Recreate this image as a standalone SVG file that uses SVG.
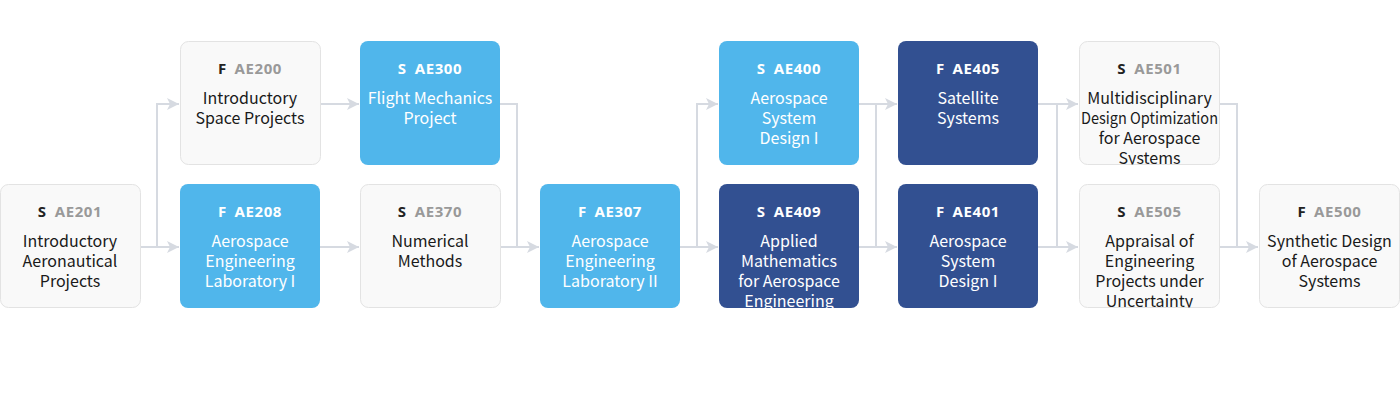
<svg xmlns="http://www.w3.org/2000/svg" width="1400" height="409" viewBox="0 0 1400 409">
<style>
.box-l{fill:#f9f9f9;stroke:#e3e3e3;stroke-width:1}
.box-b{fill:#50b6eb}
.box-d{fill:#325091}
.code{font-family:"Noto Sans","Noto Sans CJK KR",sans-serif;font-weight:700;font-size:15px;text-anchor:middle;letter-spacing:0.6px}
.title{font-family:"Noto Sans CJK KR","Noto Sans",sans-serif;font-size:16px;text-anchor:middle}
.l .sem{fill:#222}
.l .num{fill:#999}
.l .title{fill:#1a1a1a}
.w text,.w tspan{fill:#fff}
.conn{fill:none;stroke:#d6dae1;stroke-width:2}
</style>
<defs>
<marker id="ah" viewBox="0 0 12 12" markerWidth="12" markerHeight="12" refX="12" refY="6" orient="auto" markerUnits="userSpaceOnUse">
<path d="M0,0 L12,6 L0,12 L3,6 Z" fill="#d6dae1"/>
</marker>
<clipPath id="c-ae501"><rect x="1079.5" y="41.5" width="140" height="123" rx="8"/></clipPath>
<clipPath id="c-ae409"><rect x="719" y="184" width="140" height="124" rx="8"/></clipPath>
<clipPath id="c-ae505"><rect x="1079.5" y="184.5" width="140" height="123" rx="8"/></clipPath>
</defs>

<g id="connectors">
<path class="conn" d="M140,247 H179" marker-end="url(#ah)"/>
<path class="conn" d="M157,247 V104 H179" marker-end="url(#ah)"/>
<path class="conn" d="M320,104 H359" marker-end="url(#ah)"/>
<path class="conn" d="M320,247 H359" marker-end="url(#ah)"/>
<path class="conn" d="M500,104 H517 V247"/>
<path class="conn" d="M500,247 H539" marker-end="url(#ah)"/>
<path class="conn" d="M680,247 H718" marker-end="url(#ah)"/>
<path class="conn" d="M697,247 V104 H718" marker-end="url(#ah)"/>
<path class="conn" d="M859,104 H897" marker-end="url(#ah)"/>
<path class="conn" d="M859,247 H897" marker-end="url(#ah)"/>
<path class="conn" d="M876,104 V247"/>
<path class="conn" d="M1038,104 H1078" marker-end="url(#ah)"/>
<path class="conn" d="M1038,247 H1078" marker-end="url(#ah)"/>
<path class="conn" d="M1057,104 V247"/>
<path class="conn" d="M1219,104 H1237 V247"/>
<path class="conn" d="M1219,247 H1258" marker-end="url(#ah)"/>
</g>

<g id="ae201" class="l">
<rect class="box-l" x="0.5" y="184.5" width="140" height="123" rx="8"/>
<text class="code" x="70" y="217"><tspan class="sem">S</tspan><tspan class="num" dx="8">AE201</tspan></text>
<text class="title" x="70" y="246.5">Introductory</text>
<text class="title" x="70" y="266.5">Aeronautical</text>
<text class="title" x="70" y="286.5">Projects</text>
</g>

<g id="ae200" class="l">
<rect class="box-l" x="180.5" y="41.5" width="140" height="123" rx="8"/>
<text class="code" x="250" y="74"><tspan class="sem">F</tspan><tspan class="num" dx="8">AE200</tspan></text>
<text class="title" x="250" y="103.5">Introductory</text>
<text class="title" x="250" y="123.5">Space Projects</text>
</g>

<g id="ae208" class="w">
<rect class="box-b" x="180" y="184" width="140" height="124" rx="8"/>
<text class="code" x="250" y="217"><tspan>F</tspan><tspan dx="8">AE208</tspan></text>
<text class="title" x="250" y="246.5">Aerospace</text>
<text class="title" x="250" y="266.5">Engineering</text>
<text class="title" x="250" y="286.5">Laboratory I</text>
</g>

<g id="ae300" class="w">
<rect class="box-b" x="360" y="41" width="140" height="124" rx="8"/>
<text class="code" x="430" y="74"><tspan>S</tspan><tspan dx="8">AE300</tspan></text>
<text class="title" x="430" y="103.5">Flight Mechanics</text>
<text class="title" x="430" y="123.5">Project</text>
</g>

<g id="ae370" class="l">
<rect class="box-l" x="360.5" y="184.5" width="140" height="123" rx="8"/>
<text class="code" x="430" y="217"><tspan class="sem">S</tspan><tspan class="num" dx="8">AE370</tspan></text>
<text class="title" x="430" y="246.5">Numerical</text>
<text class="title" x="430" y="266.5">Methods</text>
</g>

<g id="ae307" class="w">
<rect class="box-b" x="540" y="184" width="140" height="124" rx="8"/>
<text class="code" x="610" y="217"><tspan>F</tspan><tspan dx="8">AE307</tspan></text>
<text class="title" x="610" y="246.5">Aerospace</text>
<text class="title" x="610" y="266.5">Engineering</text>
<text class="title" x="610" y="286.5">Laboratory II</text>
</g>

<g id="ae400" class="w">
<rect class="box-b" x="719" y="41" width="140" height="124" rx="8"/>
<text class="code" x="789" y="74"><tspan>S</tspan><tspan dx="8">AE400</tspan></text>
<text class="title" x="789" y="103.5">Aerospace</text>
<text class="title" x="789" y="123.5">System</text>
<text class="title" x="789" y="143.5">Design I</text>
</g>

<g id="ae409" class="w">
<rect class="box-d" x="719" y="184" width="140" height="124" rx="8"/>
<g clip-path="url(#c-ae409)">
<text class="code" x="789" y="217"><tspan>S</tspan><tspan dx="8">AE409</tspan></text>
<text class="title" x="789" y="246.5">Applied</text>
<text class="title" x="789" y="266.5">Mathematics</text>
<text class="title" x="789" y="286.5">for Aerospace</text>
<text class="title" x="789" y="306.5">Engineering</text>
</g>
</g>

<g id="ae405" class="w">
<rect class="box-d" x="898" y="41" width="140" height="124" rx="8"/>
<text class="code" x="968" y="74"><tspan>F</tspan><tspan dx="8">AE405</tspan></text>
<text class="title" x="968" y="103.5">Satellite</text>
<text class="title" x="968" y="123.5">Systems</text>
</g>

<g id="ae401" class="w">
<rect class="box-d" x="898" y="184" width="140" height="124" rx="8"/>
<text class="code" x="968" y="217"><tspan>F</tspan><tspan dx="8">AE401</tspan></text>
<text class="title" x="968" y="246.5">Aerospace</text>
<text class="title" x="968" y="266.5">System</text>
<text class="title" x="968" y="286.5">Design I</text>
</g>

<g id="ae501" class="l">
<rect class="box-l" x="1079.5" y="41.5" width="140" height="123" rx="8"/>
<g clip-path="url(#c-ae501)">
<text class="code" x="1149.5" y="74"><tspan class="sem">S</tspan><tspan class="num" dx="8">AE501</tspan></text>
<text class="title" x="1149.5" y="103.5">Multidisciplinary</text>
<text class="title" x="1149.5" y="123.5" textLength="137" lengthAdjust="spacingAndGlyphs">Design Optimization</text>
<text class="title" x="1149.5" y="143.5">for Aerospace</text>
<text class="title" x="1149.5" y="163.5">Systems</text>
</g>
</g>

<g id="ae505" class="l">
<rect class="box-l" x="1079.5" y="184.5" width="140" height="123" rx="8"/>
<g clip-path="url(#c-ae505)">
<text class="code" x="1149.5" y="217"><tspan class="sem">S</tspan><tspan class="num" dx="8">AE505</tspan></text>
<text class="title" x="1149.5" y="246.5">Appraisal of</text>
<text class="title" x="1149.5" y="266.5">Engineering</text>
<text class="title" x="1149.5" y="286.5">Projects under</text>
<text class="title" x="1149.5" y="306.5">Uncertainty</text>
</g>
</g>

<g id="ae500" class="l">
<rect class="box-l" x="1259.5" y="184.5" width="140" height="123" rx="8"/>
<text class="code" x="1329.5" y="217"><tspan class="sem">F</tspan><tspan class="num" dx="8">AE500</tspan></text>
<text class="title" x="1329.5" y="246.5">Synthetic Design</text>
<text class="title" x="1329.5" y="266.5">of Aerospace</text>
<text class="title" x="1329.5" y="286.5">Systems</text>
</g>
</svg>
